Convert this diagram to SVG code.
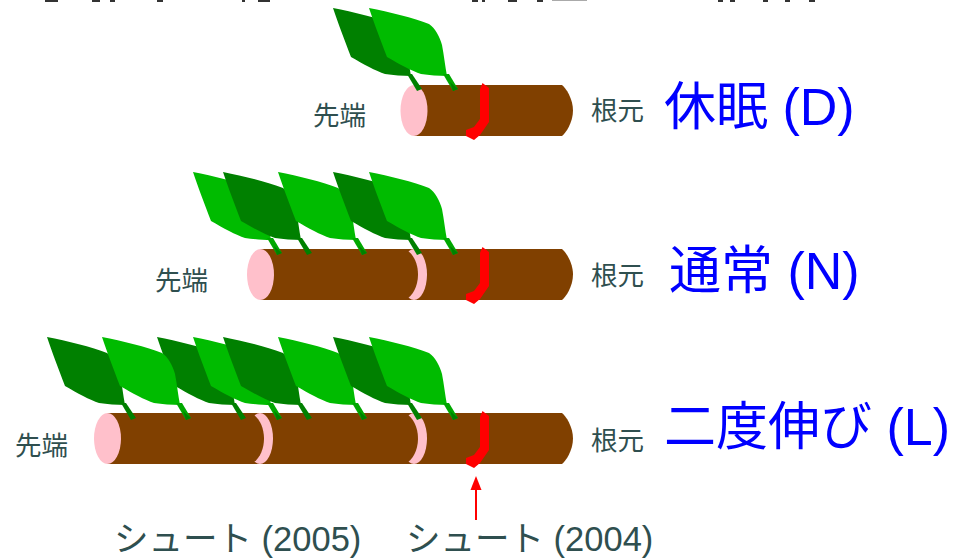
<svg xmlns="http://www.w3.org/2000/svg" xmlns:xlink="http://www.w3.org/1999/xlink" width="953" height="558" viewBox="0 0 953 558">
  <style>
    .note { font-family: "Liberation Sans", "Noto Sans CJK JP", sans-serif; fill: #2f4f4f; }
    .end { font-size: 26.500px; }
    .shoot { font-size: 34.500px; }
    .state { font-family: "Liberation Sans", "Noto Sans CJK JP", sans-serif; fill: #0000ff; font-size: 52px; }
    .wood { fill: #804000; }
    .cut { fill: #ffc0cb; }
    .scar { fill: #ff0000; }
  </style>
  <defs>
    <path id="blade" d="M0 0C20 4 45 10 60 16C66 20 71 29 73 37C75 47 76 58 78 68C70 68 60 67 52 66C43 63 30 56 18 49C12 33 5 15 0 0Z"/>
    <g id="leaf-dark" fill="#008000">
      <use href="#blade"/>
      <path d="M74 66L79 66L89 81L84 83Z"/>
    </g>
    <g id="leaf-light" fill="#00bb00">
      <use href="#blade"/>
      <path d="M74 66L80 66L89 81L84 83Z" fill="#00a800"/>
      <path d="M81 74L89 81L84 83Z" fill="#008000"/>
    </g>
    <!-- Right end of a shoot, its red scar, relative to the top of the stem -->
    <g id="base">
      <path class="wood" d="M414 0H562C566 3 573 14 573 25.500C573 37 566 48 562 51H414Z"/>
      <path class="scar" d="M482.500 -2L489 3V37L480 50L474 55L466 51V45L474 42L480 34V4Z"/>
    </g>
    <!-- Pink joint between two years of growth, centred on its outer ellipse -->
    <g id="joint">
      <ellipse class="cut" cx="0" cy="25.500" rx="13" ry="25.500"/>
      <path class="wood" d="M-9 0C-1 4 4 14 4 25.500C4 37 -1 47 -9 51H-40V0Z"/>
    </g>
  </defs>

  <!-- Cropped bottom edge of a heading line -->
  <g id="heading-edge" fill="#333333">
    <path d="M45 0H58V2H45ZM92 0H100V2H92ZM110 0H115V2H110ZM157 0H163V2H157ZM242 0H245V2H242ZM258 0H270V2H258ZM472 0H478V2H472ZM482 0H485V2H482ZM508 0H517V2H508ZM537 0H543V2H537ZM718 0H723V2H718ZM730 0H735V2H730ZM763 0H768V2H763ZM785 0H790V2H785ZM809 0H815V2H809Z"/>
    <rect x="552" y="0" width="35" height="1" fill="#aaaaaa"/>
  </g>

  <!-- Dormant shoot -->
  <g id="shoot-d">
    <g transform="translate(0 85)">
      <use href="#base"/>
      <ellipse class="cut" cx="414" cy="25.500" rx="13.500" ry="25.500"/>
    </g>
    <use href="#leaf-dark" x="333" y="8"/>
    <use href="#leaf-light" x="369" y="8"/>
  </g>
  <g id="label-d">
    <text class="note end" x="313" y="125">先端</text>
    <text class="note end" x="591" y="120">根元</text>
    <text class="state" x="664" y="125">休眠 (D)</text>
  </g>

  <!-- Normal shoot -->
  <g id="shoot-n">
    <g transform="translate(0 249)">
      <use href="#base"/>
      <rect class="wood" x="260" y="0" width="160" height="51"/>
      <use href="#joint" x="414"/>
      <ellipse class="cut" cx="260.500" cy="25.500" rx="13.500" ry="25.500"/>
    </g>
    <use href="#leaf-light" x="193" y="172"/>
    <use href="#leaf-dark" x="223" y="172"/>
    <use href="#leaf-light" x="278" y="172"/>
    <use href="#leaf-dark" x="333" y="172"/>
    <use href="#leaf-light" x="369" y="172"/>
  </g>
  <g id="label-n">
    <text class="note end" x="155" y="290">先端</text>
    <text class="note end" x="591" y="285">根元</text>
    <text class="state" x="669" y="289">通常 (N)</text>
  </g>

  <!-- Shoot with a second flush -->
  <g id="shoot-l">
    <g transform="translate(0 413)">
      <use href="#base"/>
      <rect class="wood" x="107" y="0" width="313" height="51"/>
      <use href="#joint" x="414"/>
      <use href="#joint" x="260"/>
      <ellipse class="cut" cx="107.500" cy="25.500" rx="13.500" ry="25.500"/>
    </g>
    <use href="#leaf-dark" x="47" y="337"/>
    <use href="#leaf-dark" x="157" y="337"/>
    <use href="#leaf-light" x="102" y="337"/>
    <use href="#leaf-light" x="193" y="337"/>
    <use href="#leaf-dark" x="223" y="337"/>
    <use href="#leaf-light" x="278" y="337"/>
    <use href="#leaf-dark" x="333" y="337"/>
    <use href="#leaf-light" x="369" y="337"/>
  </g>
  <g id="label-l">
    <text class="note end" x="15" y="455">先端</text>
    <text class="note end" x="591" y="450">根元</text>
    <text class="state" x="664" y="445">二度伸び (L)</text>
  </g>

  <g id="connectors">
    <path d="M476 520V488" stroke="#ff0000" stroke-width="2" fill="none"/>
    <path d="M476 476L481.500 490H470.500Z" fill="#ff0000"/>
  </g>

  <g id="shoot-labels">
    <text class="note shoot" x="114" y="551">シュート (2005)</text>
    <text class="note shoot" x="406" y="551">シュート (2004)</text>
  </g>
</svg>
